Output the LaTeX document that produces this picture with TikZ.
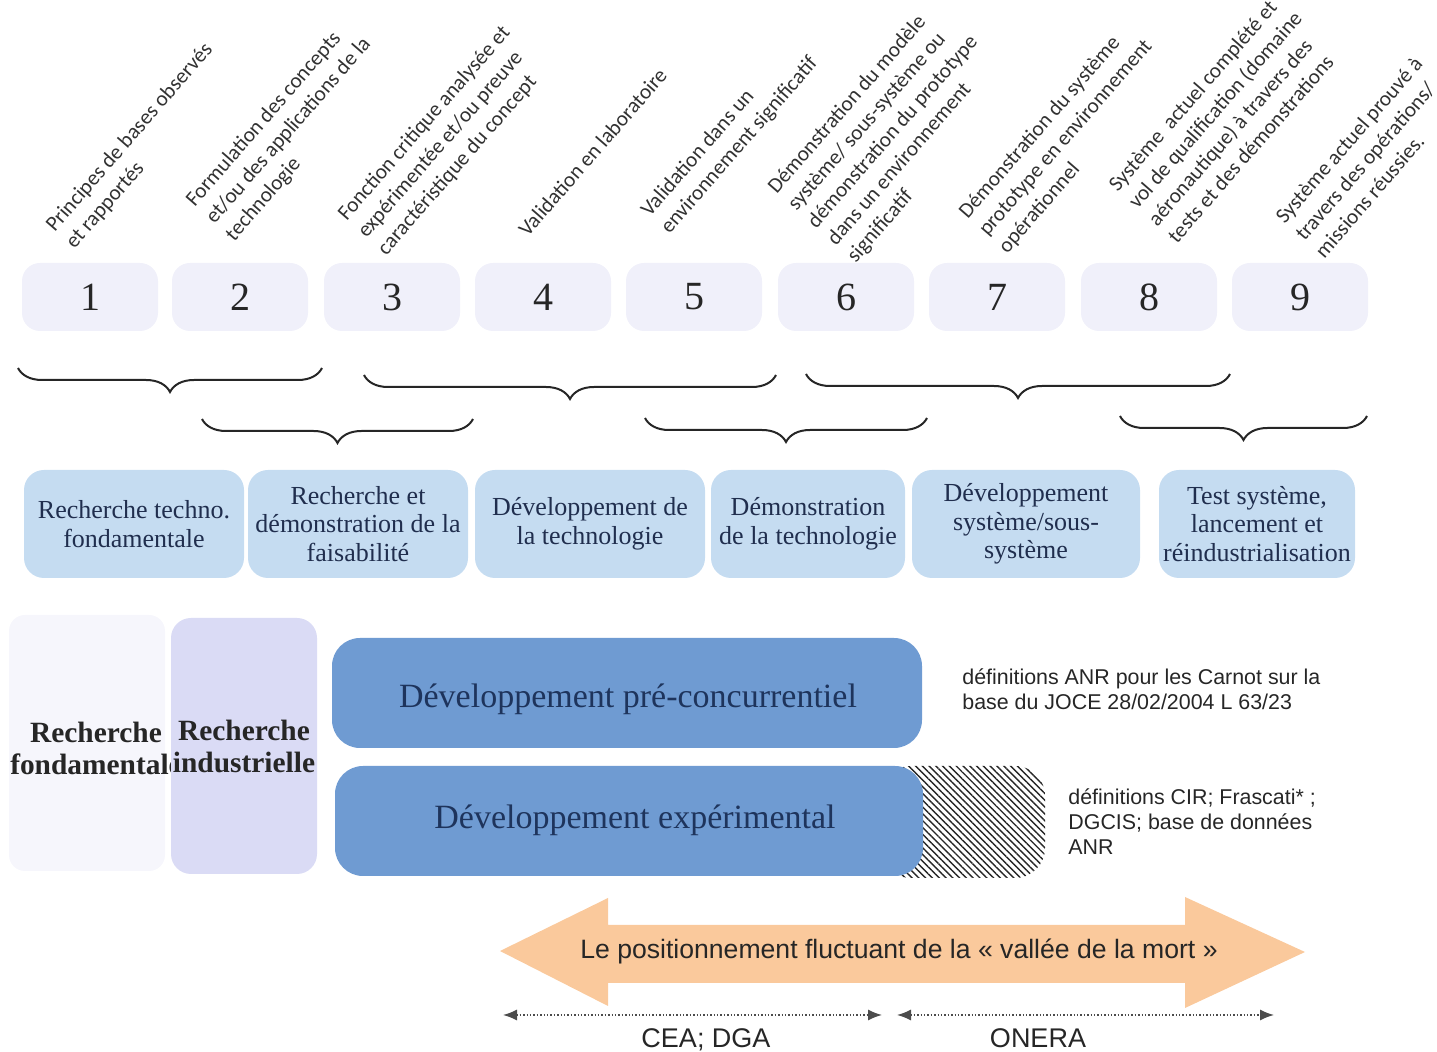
\documentclass[tikz,border=0pt]{standalone}
\usepackage{fontspec}
\usepackage{tikz}
\usetikzlibrary{arrows.meta}
\usetikzlibrary{decorations.pathreplacing}
\usetikzlibrary{patterns.meta}
\setmainfont{Liberation Serif}
\newfontfamily\lblfont{Carlito}
\newfontfamily\arialfont{Liberation Sans}
\definecolor{numbg}{RGB}{240,240,250}
\definecolor{phasebg}{RGB}{197,220,241}
\definecolor{phasetxt}{RGB}{32,46,78}
\definecolor{devbg}{RGB}{111,155,210}
\definecolor{devtxt}{RGB}{30,52,92}
\definecolor{indbg}{RGB}{218,219,245}
\definecolor{fondbg}{RGB}{246,246,252}
\definecolor{valbg}{RGB}{250,201,156}
\definecolor{lbltxt}{RGB}{50,50,50}
\newcommand{\lblsize}{\fontsize{10.7}{13.1}\selectfont}
\newcommand{\notesize}{\fontsize{10.7}{12.5}\selectfont}

\begin{document}
\begin{tikzpicture}[x=0.5pt,y=-0.5pt]
\tikzstyle{every node}=[inner sep=0pt]
\tikzstyle{numbox}=[fill=numbg,rounded corners=9pt,minimum width=68pt,minimum height=34pt,font=\fontsize{20}{24}\selectfont,text=black!85]
\tikzstyle{lbl}=[rotate=49,anchor=north west,align=left,font=\lblfont\lblsize,text=lbltxt]
\tikzstyle{phase}=[fill=phasebg,rounded corners=10pt,minimum height=54pt,align=center,font=\fontsize{13}{14.3}\selectfont,text=phasetxt]
\tikzstyle{dev}=[fill=devbg,rounded corners=14pt,minimum height=55pt]
\tikzstyle{devtext}=[font=\fontsize{17}{20}\selectfont,text=devtxt]
\tikzstyle{note}=[anchor=north west,align=left,font=\arialfont\notesize,text=black!85]
\tikzstyle{brc}=[decorate,decoration={brace,mirror,amplitude=12pt},line width=1pt,black!85]
\tikzstyle{dotspan}=[densely dotted,line width=0.7pt,black!70,{Latex[length=7pt,width=5.5pt]}-{Latex[length=7pt,width=5.5pt]}]
\useasboundingbox (0,0) rectangle (1437,1052);

\node[numbox] (n1) at (90,297) {1};
\node[numbox] (n2) at (240,297) {2};
\node[numbox] (n3) at (392,297) {3};
\node[numbox] (n4) at (543,297) {4};
\node[numbox] (n5) at (694,297) {5};
\node[numbox] (n6) at (846,297) {6};
\node[numbox] (n7) at (997,297) {7};
\node[numbox] (n8) at (1149,297) {8};
\node[numbox] (n9) at (1300,297) {9};

\node[lbl] (l1) at (43,223) {Principes de bases observés\\et rapportés};
\node[lbl] (l2) at (183,198) {Formulation des concepts\\et/ou des applications de la\\technologie};
\node[lbl] (l3) at (335,212) {Fonction critique analysée et\\expérimentée et/ou preuve\\caractéristique du concept};
\node[lbl] (l4) at (516,228) {Validation en laboratoire};
\node[lbl] (l5) at (638,208) {Validation dans un\\environnement significatif};
\node[lbl] (l6) at (765,185) {Démonstration du modèle\\système/ sous-système ou\\démonstration du prototype\\dans un environnement\\significatif};
\node[lbl] (l7) at (956,210) {Démonstration du système\\prototype en environnement\\opérationnel};
\node[lbl] (l8) at (1106,183) {Système\ \ actuel complété et\\vol de qualification (domaine\\aéronautique) à travers des\\tests et des démonstrations};
\node[lbl] (l9) at (1273,215) {Système actuel prouvé à\\travers des opérations/\\missions réussies.};

\coordinate (a1) at (18,368); \coordinate (a2) at (322,368);
\coordinate (a3) at (364,375); \coordinate (a4) at (776,375);
\coordinate (a5) at (806,374); \coordinate (a6) at (1230,374);
\coordinate (b1) at (202,419); \coordinate (b2) at (473,419);
\coordinate (b3) at (645,418); \coordinate (b4) at (927,418);
\coordinate (b5) at (1120,416); \coordinate (b6) at (1367,416);
\draw[brc] (a1) -- (a2);
\draw[brc] (a3) -- (a4);
\draw[brc] (a5) -- (a6);
\draw[brc] (b1) -- (b2);
\draw[brc] (b3) -- (b4);
\draw[brc] (b5) -- (b6);

\node[phase,minimum width=110pt] (p1) at (134,524) {Recherche techno.\\fondamentale};
\node[phase,minimum width=110pt] (p2) at (358,524) {Recherche et\\démonstration de la\\faisabilité};
\node[phase,minimum width=115pt] (p3) at (590,524) {Développement de\\la technologie};
\node[phase,minimum width=97pt] (p4) at (808,524) {Démonstration\\de la technologie};
\node[phase,minimum width=114pt] (p5) at (1026,524) {Développement\\système/sous-\\système};
\node[phase,minimum width=98pt] (p6) at (1257,524) {Test système,\\lancement et\\réindustrialisation};

\node[fill=fondbg,rounded corners=8pt,minimum width=78pt,minimum height=128pt] (fb) at (87,743) {};
\node[align=center,font=\bfseries\fontsize{14.7}{16}\selectfont,text=black!85] (ft) at (96,748) {Recherche\\fondamentale};
\node[fill=indbg,rounded corners=10pt,minimum width=73pt,minimum height=128pt,align=center,font=\bfseries\fontsize{14.7}{16}\selectfont,text=black!85] (ri) at (244,746) {Recherche\\industrielle};

\node[pattern={Lines[angle=-45,distance=2.4pt,line width=0.7pt]},pattern color=black!85,rounded corners=15pt,minimum width=82pt,minimum height=56pt] (hx) at (963,822) {};
\node[dev,minimum width=295pt] (d1) at (627,693) {};
\node[dev,minimum width=294pt] (d2) at (629,821) {};
\node[devtext] (d1t) at (628,699) {Développement pré-concurrentiel};
\node[devtext] (d2t) at (635,820) {Développement expérimental};

\node[note] (t1) at (962,668) {définitions ANR pour les Carnot sur la\\base du JOCE 28/02/2004 L 63/23};
\node[note] (t2) at (1068,788) {définitions CIR; Frascati* ;\\DGCIS; base de données\\ANR};

\fill[valbg] (500,951) -- (608,898) -- (608,925) -- (1185,925) -- (1185,897) -- (1305,952) -- (1185,1008) -- (1185,983) -- (608,983) -- (608,1006) -- cycle;
\node[font=\arialfont\fontsize{13.3}{16}\selectfont,text=black!85] (v) at (899,951) {Le positionnement fluctuant de la « vallée de la mort »};

\coordinate (c1) at (503,1015); \coordinate (c2) at (882,1015);
\coordinate (c3) at (897,1015); \coordinate (c4) at (1274,1015);
\draw[dotspan] (c1) -- (c2);
\draw[dotspan] (c3) -- (c4);
\node[anchor=base,font=\arialfont\fontsize{13.5}{16}\selectfont,text=black!85] (o1) at (706,1048) {CEA; DGA};
\node[anchor=base,font=\arialfont\fontsize{13.5}{16}\selectfont,text=black!85] (o2) at (1038,1048) {ONERA};
\end{tikzpicture}
\end{document}
